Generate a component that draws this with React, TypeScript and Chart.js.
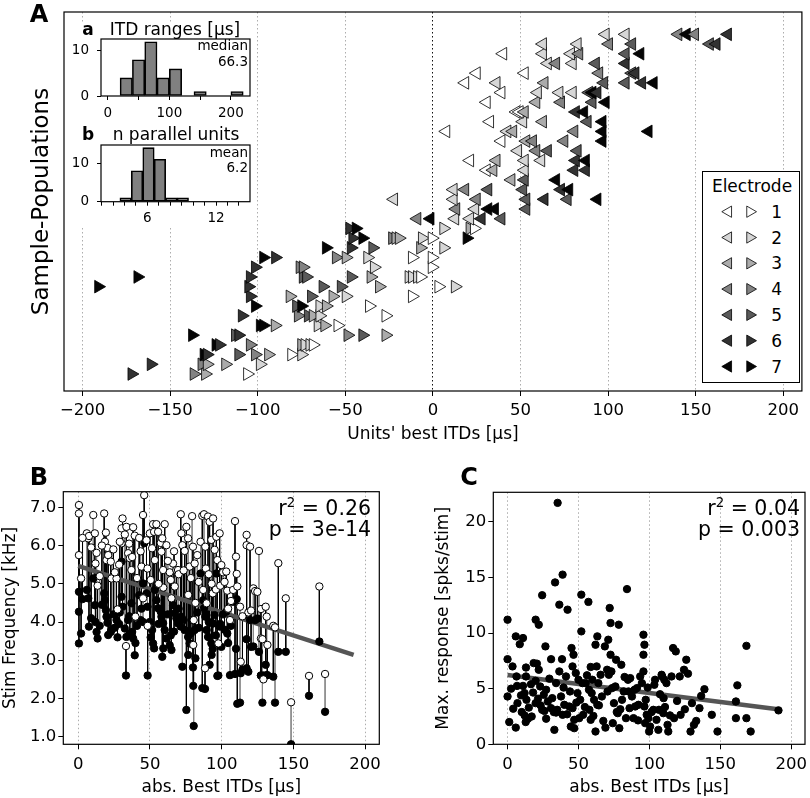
import React, { useEffect, useRef } from 'react';
import { Chart, registerables } from 'chart.js';

Chart.register(...registerables);

const FONT = "'DejaVu Sans', sans-serif";
const MINUS = '\u2212';

// ================= Panel A : units' best ITDs per sample population =================
const aItdTicks = [-200, -150, -100, -50, 0, 50, 100, 150, 200];
const aPopulationSide = [
  'right', 'right', 'right', 'right', 'right', 'right', 'right', 'right',
  'right', 'right', 'right', 'right', 'right', 'right', 'right', 'right',
  'left', 'left', 'left', 'left', 'left', 'left', 'left', 'left', 'left', 'left',
  'left', 'left', 'left', 'left', 'left', 'left', 'left', 'left', 'left', 'left',
];
const aBestItds: number[][] = [
  [-172, -136.5, -130, -106],
  [-161, -132, -129, -118.5, -98.7],
  [-130.8, -129, -111, -101.5, -94, -80.8, -75.1],
  [-124, -122, -104.4, -75.1, -73.2, -70.4, -68.5],
  [-137.4, -112.9, -111, -48.7, -40.2, -27],
  [-98.7, -96.8, -90.2, -65.7, -61.9, -54.4],
  [-109, -77, -71.3, -68.5, -64.7, -27],
  [-101.5, -78, -75.1, -64.7, -61, -36.4],
  [-104.4, -81.7, -69.5, -57.2, -49.7, -11.9],
  [-191, -105.3, -62.9, -52.5, -30.7, 3.2, 12.6],
  [-168.6, -104.4, -74.2, -72.3, -46.8, -35.5, -13.8, -11.9, -9, -7.2],
  [-101.5, -76, -74.2, -33.6, -0.6],
  [-96.8, -90, -55.3, -49.7, -37.4, -11.9, -0.6],
  [-61, -46.8, -34.5, -7.2, 6],
  [-45.9, -40.2, -23.2, -21.3, -19.4, -6.2, -0.6, 19.3],
  [-47.7, -44, 6, 21, 23.5],
  [-9, -1.5, 12.6, 21.1, 27.7, 39],
  [13.2, 24, 31.5, 35.3, 53.2],
  [-22.3, 11.7, 24.9, 53.2, 63.6, 76.8, 93.8],
  [11.7, 18.3, 31.5, 51.4, 73, 77.7],
  [44.7, 52.3, 70.2],
  [30.6, 34.4, 52.3, 80.6, 87.2],
  [21.1, 36.2, 52.3, 61.7, 81.5, 87.2],
  [48.5, 58.9, 65.5, 82.5],
  [39, 53.2, 57, 74.9, 96.7],
  [7.5, 42.4, 45.7, 80.6, 96.7, 123],
  [32.5, 51.4, 62.7, 88.2, 96.7],
  [47.6, 49.4, 52.3, 81.5, 86.2],
  [30.6, 58.9, 73, 91, 98.5],
  [39, 59.8, 72.1, 79.7, 89.1, 91, 93.8],
  [18.3, 36.2, 63.6, 97.6, 109.9, 119.3, 125.9],
  [24.9, 52.3, 94.8, 113.6, 115.5],
  [65.5, 70.2, 79.7, 92.9, 109.9],
  [40, 62.7, 78.7, 83.4, 109.9, 118.3],
  [62.7, 82.5, 100.4, 113.6, 158, 161.8],
  [98.5, 109.9, 140, 144.8, 149.5, 168.3],
];
const aElectrodes: number[][] = [
  [6, 4, 3, 1],
  [6, 4, 3, 3, 2],
  [7, 6, 5, 4, 3, 1, 2],
  [7, 6, 4, 3, 2, 2, 1],
  [7, 5, 6, 4, 5, 3],
  [7, 7, 3, 2, 3, 1],
  [6, 4, 5, 3, 2, 1],
  [7, 5, 7, 2, 3, 1],
  [6, 3, 5, 3, 2, 1],
  [7, 6, 5, 5, 3, 1, 2],
  [7, 6, 5, 5, 5, 3, 2, 2, 2, 1],
  [6, 4, 4, 2, 1],
  [7, 6, 4, 3, 2, 1, 1],
  [7, 6, 5, 3, 2],
  [6, 7, 4, 3, 3, 2, 1, 7],
  [6, 7, 2, 3, 1],
  [4, 7, 2, 2, 6, 5],
  [4, 2, 7, 7, 5],
  [2, 2, 4, 5, 6, 5, 7],
  [2, 4, 5, 5, 6, 7],
  [3, 5, 7],
  [1, 3, 2, 6, 6],
  [1, 3, 2, 2, 6, 7],
  [2, 4, 5, 5],
  [1, 3, 4, 4, 7],
  [1, 2, 3, 4, 7, 7],
  [1, 2, 3, 5, 7],
  [1, 1, 3, 6, 7],
  [1, 3, 4, 5, 7],
  [1, 2, 2, 2, 5, 7, 6],
  [1, 2, 3, 5, 5, 6, 7],
  [1, 1, 4, 5, 6],
  [2, 4, 2, 5, 6],
  [1, 2, 2, 4, 5, 7],
  [2, 2, 4, 5, 5, 6],
  [2, 2, 4, 7, 4, 6],
];
const electrodeIds = [1, 2, 3, 4, 5, 6, 7];

// ================= Inset a : ITD ranges =================
const itdRangeBinCenters = [30, 50, 70, 90, 110, 150, 210];
const itdRangeCounts = [4, 8, 12, 4, 6, 1, 1];
const itdRangeTicks = [0, 50, 100, 150, 200];
const itdRangeTickLabels = [0, 100, 200];
const itdRangeCountTicks = [0, 10];
const itdRangeMedian = '66.3';

// ================= Inset b : n parallel units =================
const nUnitsBinCenters = [4.1, 5.1, 6.1, 7.1, 8.1, 9.1];
const nUnitsCounts = [1, 8, 14, 11, 1, 1];
const nUnitsTicks = [2, 3, 4, 5, 6, 7, 8, 9, 10, 11, 12, 13, 14];
const nUnitsTickLabels = [6, 12];
const nUnitsCountTicks = [0, 10];
const nUnitsMean = '6.2';

// ================= Panel B : stim frequency vs abs best ITD =================
const bAbsItd = [
  0.5, 0.5, 0.5, 2, 6, 7, 7.5, 10.5, 11.6, 12, 12.8, 13.5, 18.1, 18.6, 19.3, 19.7,
  20.4, 20.9, 22.7, 23.2, 26.7, 27.4, 30.2, 30.2, 30.9, 32.5, 33.3, 33.6, 34.8, 36,
  37.1, 37.6, 38.3, 39.4, 39.9, 44.1, 45.2, 45.2, 46, 47.6, 48.3, 48.4, 49.9, 51.5,
  52.2, 52.9, 53.4, 54.5, 55.7, 57.5, 58, 58.6, 59.2, 59.3, 60.3, 61.5, 63.8, 65,
  66.1, 67.3, 68.4, 69.6, 71.5, 71.9, 72.6, 74.2, 75.4, 76.6, 76.7, 77.7, 79.4, 80,
  80.2, 80.5, 81.2, 81.7, 85.3, 86.5, 87.1, 87.7, 88.4, 88.6, 89.5, 90.5, 91.6, 92.8,
  93, 94, 95.1, 96.3, 97, 97.7, 98.6, 99.8, 101, 103.2, 103.9, 105.8, 108, 109.3,
  110, 110.5, 110.9, 112.8, 113.3, 117.4, 117.4, 118.6, 119.8, 122.1, 123.3, 124.9,
  126, 127.4, 127.4, 128.4, 129.1, 130.7, 131.4, 131.9, 136, 137.2, 139.5, 144.7,
  148.4, 160.9, 168.1, 172.1,
  3, 9, 15, 16.5, 24.5, 25.5, 28.5, 29, 35.5, 41, 42.5, 43.5, 50.5, 56, 62.5, 64.5,
  66.8, 70, 73.5, 78.5, 83, 84, 89, 91, 93.8, 96, 99, 102, 104.5, 106.5, 114.5, 120.5,
];
const bFreqWhite = [
  7.06, 6.84, 5.75, 5.14, 6.32, 6.19, 6.25, 6.8, 6.32, 5.53, 5.81, 4.95, 6.84, 6.1, 6.34, 5.62,
  5.94, 5.75, 5.58, 5.14, 5.14, 4.33, 6.45, 6.06, 6.71, 6.29, 3.37, 6.49, 5.8, 5.67,
  5.36, 5.7, 6.48, 6.26, 4.14, 5.45, 6.8, 4.62, 7.32, 6.14, 5.4, 3.9, 6.32, 5.93,
  6.56, 6.36, 5.62, 6.56, 6.36, 6.07, 5.84, 6.19, 5.36, 4.9, 6.56, 6.01, 5.3, 4.62,
  5.53, 4.93, 5.36, 5.36, 6.82, 6.32, 6.01, 5.86, 6.49, 6.19, 4.71, 5.45, 6.77, 5.97,
  3.4, 4.05, 5.53, 4.5, 6.1, 6.78, 4.84, 6.82, 2.79, 5.97, 4.49, 6.76, 6.62, 6.15,
  5.0, 6.71, 5.89, 6.23, 5.62, 3.44, 6.32, 5.49, 5.3, 5.32, 4.82, 4.05, 4.84, 6.64,
  5.71, 5.26, 4.93, 4.4, 2.96, 6.28, 6.01, 4.25, 5.97, 4.88, 4.81, 4.79,
  5.86, 4.34, 3.57, 3.55, 2.5, 4.4, 4.14, 3.4, 3.9, 3.86, 5.54, 4.62,
  1.9, 2.59, 4.93, 2.64,
  6.2, 5.95, 5.2, 6.0, 5.9, 5.3, 5.5, 6.1, 6.05, 5.15, 6.2, 5.85, 5.1, 5.0, 5.6, 5.1,
  5.85, 5.25, 5.35, 5.15, 5.75, 5.05, 5.4, 5.25, 4.75, 4.85, 4.95, 5.05, 4.35, 4.55, 4.15, 4.3,
];
const bFreqBlack = [
  4.79, 4.27, 3.44, 3.7, 4.84, 4.62, 3.88, 5.14, 4.44, 4.0, 3.74, 3.57, 4.75, 4.57, 4.31, 4.14,
  3.98, 3.66, 3.74, 3.8, 4.05, 3.6, 5.58, 4.66, 4.4, 3.83, 2.6, 3.61, 4.05, 3.7,
  4.49, 3.74, 3.57, 3.13, 3.45, 4.35, 5.01, 4.0, 6.06, 4.75, 4.4, 2.6, 4.0, 3.79,
  3.44, 3.31, 4.84, 4.57, 4.36, 4.27, 4.14, 3.09, 3.97, 3.31, 3.79, 3.57, 3.39, 3.27,
  4.44, 4.23, 4.1, 3.96, 3.88, 4.14, 2.83, 3.79, 1.7, 3.61, 3.14, 3.44, 4.05, 2.81,
  2.33, 1.28, 3.79, 3.05, 5.27, 2.27, 4.57, 4.36, 2.25, 4.14, 3.79, 3.61, 2.88, 3.44,
  3.14, 3.96, 4.18, 5.27, 2.59, 2.6, 3.88, 3.35, 4.2, 4.27, 3.7, 2.61, 4.53, 2.64,
  3.3, 4.6, 1.86, 1.89, 2.66, 2.79, 3.55, 2.7, 4.05, 3.36, 4.05, 4.09,
  3.22, 2.6, 2.6, 1.89, 2.6, 2.88, 2.61, 2.61, 2.57, 1.89, 3.22, 3.22,
  0.8, 2.07, 3.49, 1.65,
  4.6, 4.1, 3.9, 4.45, 4.2, 3.85, 3.95, 4.25, 4.15, 3.9, 4.7, 4.05, 3.6, 3.95, 4.2, 3.65,
  3.75, 4.35, 4.05, 3.7, 4.25, 3.85, 4.2, 4.0, 3.3, 3.65, 3.95, 3.8, 3.45, 3.9, 2.75, 3.35,
];
const bFitItd = [0, 192];
const bFitFreq = [5.47, 3.14];
const bXTicks = [0, 50, 100, 150, 200];
const bYTicks = [1, 2, 3, 4, 5, 6, 7];
const bR2 = '0.26';
const bP = '3e-14';

// ================= Panel C : max response vs abs best ITD =================
const cAbsItd = [
  0, 0, 0, 1.2, 3.5, 5.8, 5.8, 6.3, 7, 8.6, 6.7, 10.9, 10.9, 12, 12, 12.8, 13, 13, 13.3, 14.4,
  18, 18.4, 19.8, 22, 19.8, 19.8, 20.7, 22, 23.3, 24.4, 24.4, 26, 26.7, 27.2, 27.2, 28.4,
  30.7, 30.7, 32.6, 33, 33.5, 34.2, 34.2, 35.3, 36.5, 36.5, 37.7, 38.4, 38.8, 38.8, 40,
  41.2, 42.3, 43.5, 44.6, 45.1, 45.8, 45.8, 46.5, 47, 47, 48.1, 49.3, 50.5, 51.2, 52, 52,
  52.8, 53.3, 55.1, 57, 57.4, 57.7, 58.6, 58.6, 59.3, 59.8, 61, 62, 62, 62.8, 63.3, 63.3,
  64, 64.4, 65.6, 68.6, 69, 70.2, 71, 71.4, 72, 72.6, 72.6, 73.2, 73.7, 74.2, 75, 76,
  76.5, 77, 77.7, 78.4, 78.8, 80.2, 80.7, 81.9, 83.5, 84.2, 84.9, 85.3, 86.5, 87.7, 88.8,
  90, 91.2, 92.3, 93.5, 94.7, 95.8, 95.8, 96.5, 95.8, 96.5, 97, 97.4, 98.1, 99.3, 99.8,
  100.5, 102.8, 103.5, 104, 105, 106.3, 106.7, 108.6, 109, 109.8, 110, 110.5, 112, 112.8,
  113.3, 115.6, 116.7, 117.4, 118.6, 121.4, 122, 124.4, 126, 127.2, 129, 130, 131.4,
  135.3, 136.5, 138.8, 144, 148, 161, 161, 162, 168.4, 168.4, 171.4, 191,
  2.5, 4, 9.5, 10, 15, 16.5, 17, 21.5, 23, 25.5, 29.5, 31.5, 35, 39.5, 42, 44, 48.5, 50,
  54.5, 56, 60.5, 66.5, 67.5, 70.5, 79.5, 82.5, 86, 89.5, 92, 98.8, 101.5, 107.5, 111,
  114.5, 119.5, 125, 133,
];
const cMaxResponse = [
  11.2, 7.65, 4.3, 2.0, 7.0, 9.7, 1.5, 6.1, 3.7, 9.0, 5.25, 9.55, 5.25, 4.6, 2.6, 2.0, 6.9, 6.1, 4.0, 2.3,
  4.65, 7.3, 11.2, 10.75, 5.7, 3.7, 7.25, 6.7, 3.5, 13.4, 3.1, 3.0, 8.8, 4.9, 2.3, 3.85,
  7.65, 3.25, 2.9, 1.3, 14.55, 5.5, 2.85, 21.7, 12.55, 6.55, 4.3, 7.65, 15.25, 2.65, 3.55,
  6.1, 12.1, 3.4, 1.6, 8.65, 7.0, 3.25, 8.05, 2.2, 1.45, 6.4, 4.6, 2.35, 4.0, 13.45, 10.15,
  5.5, 2.65, 5.5, 12.8, 4.9, 3.1, 6.95, 2.2, 4.6, 5.8, 4.0, 8.95, 1.15, 7.0, 9.7, 3.55,
  5.5, 3.5, 6.25, 8.8, 1.5, 6.7, 9.4, 6.25, 12.25, 10.9, 8.05, 6.55, 5.05, 1.9, 3.7, 5.2,
  7.6, 2.9, 2.8, 10.75, 1.45, 7.15, 4.0, 4.75, 2.35, 13.95, 5.8, 4.75, 5.95, 4.3, 2.35,
  3.4, 5.05, 3.55, 6.1, 5.5, 8.05, 9.85, 8.95, 6.55, 3.4, 1.9, 4.0, 2.65, 2.35, 1.15,
  1.6, 3.1, 5.35, 5.8, 2.2, 1.3, 3.1, 6.25, 6.1, 2.8, 4.15, 5.8, 5.5, 1.75,
  1.15, 6.1, 8.65, 2.35, 8.35, 6.1, 2.65, 6.7, 7.6, 6.35, 1.15, 3.7, 1.75,
  3.25, 4.35, 4.95, 2.65, 1.15, 3.85, 2.35, 5.3, 2.35, 8.85, 1.15, 3.05,
  5.0, 3.2, 4.4, 2.9, 3.3, 5.4, 2.5, 4.1, 5.2, 4.45, 5.9, 4.15, 3.1, 5.1, 2.7, 4.75, 3.75, 5.8,
  3.35, 6.2, 2.55, 4.3, 2.1, 4.75, 3.15, 6.05, 3.25, 4.9, 2.15, 5.1, 2.9, 4.5, 3.35,
  2.6, 3.9, 3.15, 2.1,
];
const cFitItd = [0, 192];
const cFitResponse = [6.22, 3.12];
const cXTicks = [0, 50, 100, 150, 200];
const cYTicks = [0, 5, 10, 15, 20];
const cR2 = '0.04';
const cP = '0.003';

// ================= styling helpers =================
const ELECTRODE_GRAYS = ['#ffffff', '#d6d6d6', '#ababab', '#838383', '#5a5a5a', '#323232', '#050505'];

const framePlugin = {
  id: 'frame',
  afterDraw(chart: any) {
    const { ctx, chartArea } = chart;
    const { left, top, right, bottom } = chartArea;
    ctx.save();
    ctx.strokeStyle = '#000';
    ctx.lineWidth = 1.2;
    ctx.strokeRect(left, top, right - left, bottom - top);
    ctx.restore();
  },
};

type AxisOpts = {
  min: number;
  max: number;
  ticks: number[];
  labels?: number[];
  horizontal: boolean;
  fixed: number;
  tickLen?: number;
  pad?: number;
  fontSize?: number;
  fmt?: (v: number) => string;
  grid?: boolean;
  gridColor?: (v: number) => string;
  showTicks?: boolean;
  title?: string;
  titleSize?: number;
  titlePad?: number;
};

function axis(o: AxisOpts): any {
  const labelSet = o.labels ?? o.ticks;
  const fmt = o.fmt ?? ((v: number) => String(v));
  const show = o.showTicks !== false;
  return {
    type: 'linear',
    min: o.min,
    max: o.max,
    offset: false,
    afterBuildTicks: (s: any) => {
      s.ticks = o.ticks.map((v) => ({ value: v }));
    },
    afterFit: (s: any) => {
      if (o.horizontal) {
        s.height = o.fixed;
        s.paddingLeft = 0;
        s.paddingRight = 0;
      } else {
        s.width = o.fixed;
        s.paddingTop = 0;
        s.paddingBottom = 0;
      }
    },
    ticks: {
      display: show,
      autoSkip: false,
      maxRotation: 0,
      minRotation: 0,
      padding: o.pad ?? 4,
      color: '#000',
      font: { family: FONT, size: o.fontSize ?? 16.5 },
      callback: (v: number) => (labelSet.includes(v) ? fmt(v) : ''),
    },
    grid: {
      display: show,
      drawOnChartArea: !!o.grid,
      drawTicks: true,
      offset: false,
      tickLength: o.tickLen ?? 5,
      tickWidth: 1,
      tickColor: '#000',
      lineWidth: 1,
      color: (c: any) => (o.gridColor ? o.gridColor(c.tick ? c.tick.value : NaN) : '#adadad'),
    },
    border: { display: false, dash: [1.5, 2.5] },
    title: o.title
      ? {
          display: true,
          text: o.title,
          color: '#000',
          font: { family: FONT, size: o.titleSize ?? 17 },
          padding: { top: o.titlePad ?? 0, bottom: o.titlePad ?? 0 },
        }
      : { display: false },
  };
}

function baseOptions(padding: any, scales: any) {
  return {
    responsive: false,
    maintainAspectRatio: false,
    animation: false,
    devicePixelRatio: 1,
    layout: { padding },
    plugins: { legend: { display: false }, tooltip: { enabled: false }, title: { display: false } },
    scales,
  };
}

// ================= chart configs =================
function makeA() {
  const points: any[] = [];
  aBestItds.forEach((row, p) =>
    row.forEach((itd, k) => points.push({ x: itd, y: p, e: aElectrodes[p][k], side: aPopulationSide[p] }))
  );
  return {
    type: 'scatter',
    data: {
      datasets: [
        {
          data: points,
          pointStyle: 'triangle',
          pointRadius: 7.3,
          pointRotation: (c: any) => (c.raw && c.raw.side === 'right' ? 90 : -90),
          pointBackgroundColor: (c: any) => ELECTRODE_GRAYS[((c.raw && c.raw.e) || 1) - 1],
          pointBorderColor: '#000',
          pointBorderWidth: 0.8,
        },
      ],
    },
    options: baseOptions(
      { left: 0, top: 12, right: 3, bottom: 0 },
      {
        x: axis({
          min: -210.6,
          max: 210.6,
          ticks: aItdTicks,
          horizontal: true,
          fixed: 59,
          pad: 5,
          grid: true,
          gridColor: (v) => (v === 0 ? '#111' : '#adadad'),
          fmt: (v) => (v < 0 ? MINUS + Math.abs(v) : String(v)),
          title: "Units' best ITDs [µs]",
          titlePad: 5,
        }),
        y: axis({
          min: -1.75,
          max: 37.3,
          ticks: [],
          horizontal: false,
          fixed: 64,
          showTicks: false,
          title: 'Sample-Populations',
          titleSize: 23,
          titlePad: 28,
        }),
      }
    ),
    plugins: [framePlugin],
  };
}

function makeHist(
  centers: number[],
  counts: number[],
  xmin: number,
  xmax: number,
  xticks: number[],
  xlabels: number[],
  ymax: number,
  yticks: number[],
  xFixed: number,
  top: number
) {
  return {
    type: 'bar',
    data: {
      datasets: [
        {
          data: centers.map((c, i) => ({ x: c, y: counts[i] })),
          backgroundColor: '#808080',
          borderColor: '#000',
          borderWidth: 1.6,
          borderSkipped: false,
          barPercentage: 1,
          categoryPercentage: 1,
        },
      ],
    },
    options: baseOptions(
      { left: 0, top, right: 6, bottom: 0 },
      {
        x: axis({ min: xmin, max: xmax, ticks: xticks, labels: xlabels, horizontal: true, fixed: xFixed, tickLen: 4, pad: 5, fontSize: 13.5 }),
        y: axis({ min: 0, max: ymax, ticks: yticks, horizontal: false, fixed: 35, tickLen: 4, pad: 8, fontSize: 13.5 }),
      }
    ),
    plugins: [framePlugin],
  };
}

function makeB() {
  const whites = bAbsItd.map((x, i) => ({ x, y: bFreqWhite[i] }));
  const blacks = bAbsItd.map((x, i) => ({ x, y: bFreqBlack[i] }));
  const stemsDark: any[] = [];
  const stemsGray: any[] = [];
  bAbsItd.forEach((x, i) => {
    const target = i % 3 === 1 ? stemsGray : stemsDark;
    target.push({ x, y: bFreqWhite[i] }, { x, y: bFreqBlack[i] }, { x, y: null });
  });
  const fit = bFitItd.map((x, i) => ({ x, y: bFitFreq[i] }));
  return {
    type: 'scatter',
    data: {
      datasets: [
        { data: whites, pointRadius: 3.7, pointBackgroundColor: '#fff', pointBorderColor: '#000', pointBorderWidth: 1, order: 0 },
        { data: blacks, pointRadius: 3.7, pointBackgroundColor: '#000', pointBorderColor: '#000', pointBorderWidth: 1, order: 1 },
        { data: fit, showLine: true, borderColor: '#555', borderWidth: 4.5, pointRadius: 0, order: 2 },
        { data: stemsDark, showLine: true, spanGaps: false, borderColor: '#000', borderWidth: 1, pointRadius: 0, order: 3 },
        { data: stemsGray, showLine: true, spanGaps: false, borderColor: '#8a8a8a', borderWidth: 1, pointRadius: 0, order: 4 },
      ],
    },
    options: baseOptions(
      { left: 0, top: 21.7, right: 20.7, bottom: 0 },
      {
        x: axis({ min: -10.4, max: 209.9, ticks: bXTicks, horizontal: true, fixed: 53.7, pad: 5.8, grid: true, title: 'abs. Best ITDs [µs]', titlePad: 0.5 }),
        y: axis({ min: 0.8, max: 7.41, ticks: bYTicks, horizontal: false, fixed: 63.3, pad: 2, fmt: (v) => v.toFixed(1), title: 'Stim Frequency [kHz]', titlePad: 0 }),
      }
    ),
    plugins: [framePlugin],
  };
}

function makeC() {
  const pts = cAbsItd.map((x, i) => ({ x, y: cMaxResponse[i] }));
  const fit = cFitItd.map((x, i) => ({ x, y: cFitResponse[i] }));
  return {
    type: 'scatter',
    data: {
      datasets: [
        { data: pts, pointRadius: 3.7, pointBackgroundColor: '#000', pointBorderColor: '#000', pointBorderWidth: 1, order: 0 },
        { data: fit, showLine: true, borderColor: '#555', borderWidth: 4.5, pointRadius: 0, order: 1 },
      ],
    },
    options: baseOptions(
      { left: 0, top: 22.3, right: 2.5, bottom: 0 },
      {
        x: axis({ min: -10.05, max: 209.7, ticks: cXTicks, horizontal: true, fixed: 53.7, pad: 5.8, grid: true, title: 'abs. Best ITDs [µs]', titlePad: 0.5 }),
        y: axis({ min: 0, max: 22.65, ticks: cYTicks, horizontal: false, fixed: 83.3, pad: 2, title: 'Max. response [spks/stim]', titlePad: 23.3 }),
      }
    ),
    plugins: [framePlugin],
  };
}

// ================= components =================
function ChartBox(props: { left: number; top: number; width: number; height: number; make: () => any }) {
  const { left, top, width, height, make } = props;
  const ref = useRef<HTMLCanvasElement | null>(null);
  useEffect(() => {
    if (!ref.current) return;
    const chart = new Chart(ref.current, make());
    return () => chart.destroy();
  }, []);
  return (
    <div style={{ position: 'absolute', left, top, width, height }}>
      <canvas ref={ref} width={width} height={height} style={{ display: 'block', width, height }} />
    </div>
  );
}

function T(props: { x: number; y: number; size: number; bold?: boolean; anchor?: 'left' | 'center' | 'right'; children: any }) {
  const { x, y, size, bold, anchor = 'center', children } = props;
  const tx = anchor === 'center' ? '-50%' : anchor === 'right' ? '-100%' : '0';
  return (
    <div
      style={{
        position: 'absolute',
        left: x,
        top: y,
        transform: `translate(${tx}, -50%)`,
        fontFamily: FONT,
        fontSize: size,
        fontWeight: bold ? 'bold' : 'normal',
        whiteSpace: 'nowrap',
        lineHeight: 1,
        color: '#000',
      }}
    >
      {children}
    </div>
  );
}

function Tri(props: { cx: number; cy: number; r: number; dir: 'left' | 'right'; fill: string }) {
  const { cx, cy, r, dir, fill } = props;
  const s = dir === 'left' ? -1 : 1;
  const h = (Math.sqrt(3) / 2) * r;
  const pts = `${cx + s * r},${cy} ${cx - (s * r) / 2},${cy - h} ${cx - (s * r) / 2},${cy + h}`;
  return <polygon points={pts} fill={fill} stroke="#000" strokeWidth={0.8} />;
}

function Legend() {
  const left = 702;
  const top = 171;
  const w = 98;
  const h = 212;
  return (
    <div style={{ position: 'absolute', left, top, width: w, height: h, background: '#fff', border: '1px solid #000', boxSizing: 'border-box' }}>
      <T x={49} y={14} size={17}>Electrode</T>
      <svg width={w} height={h} style={{ position: 'absolute', left: -1, top: -1 }}>
        {electrodeIds.map((id, i) => (
          <g key={id}>
            <Tri cx={26.3} cy={40.7 + 25.8 * i} r={6.5} dir="left" fill={ELECTRODE_GRAYS[i]} />
            <Tri cx={48} cy={40.7 + 25.8 * i} r={6.5} dir="right" fill={ELECTRODE_GRAYS[i]} />
          </g>
        ))}
      </svg>
      {electrodeIds.map((id, i) => (
        <T key={id} x={73.7} y={39.7 + 25.8 * i} size={17}>
          {String(id)}
        </T>
      ))}
    </div>
  );
}

export default function App() {
  return (
    <div style={{ position: 'absolute', left: 0, top: 0, width: 810, height: 798, background: '#fff', overflow: 'hidden' }}>
      <ChartBox left={0} top={0} width={810} height={450} make={makeA} />
      <div style={{ position: 'absolute', left: 66, top: 22, width: 190, height: 204, background: '#fff' }} />
      <ChartBox
        left={66}
        top={22}
        width={190}
        height={100}
        make={() => makeHist(itdRangeBinCenters, itdRangeCounts, -11, 231, itdRangeTicks, itdRangeTickLabels, 12.6, itdRangeCountTicks, 26, 17)}
      />
      <ChartBox
        left={66}
        top={125}
        width={190}
        height={101}
        make={() => makeHist(nUnitsBinCenters, nUnitsCounts, 1.95, 14.97, nUnitsTicks, nUnitsTickLabels, 14.7, nUnitsCountTicks, 24.3, 20)}
      />
      <Legend />
      <ChartBox left={0} top={470} width={400} height={328} make={makeB} />
      <ChartBox left={410} top={470} width={400} height={328} make={makeC} />

      <T x={39} y={13.5} size={24} bold>A</T>
      <T x={39} y={477} size={24} bold>B</T>
      <T x={469} y={477} size={24} bold>C</T>

      <T x={88} y={29} size={17} bold>a</T>
      <T x={175} y={29} size={17}>ITD ranges [µs]</T>
      <T x={248} y={46} size={13.5} anchor="right">median</T>
      <T x={248} y={62} size={13.5} anchor="right">{itdRangeMedian}</T>

      <T x={88} y={134} size={17} bold>b</T>
      <T x={176} y={134} size={17}>n parallel units</T>
      <T x={248} y={152.7} size={13.5} anchor="right">mean</T>
      <T x={248} y={168.3} size={13.5} anchor="right">{nUnitsMean}</T>

      <T x={371} y={507} size={20.5} anchor="right">
        r<sup style={{ fontSize: '0.65em', verticalAlign: '0.6em' }}>2</sup> = {bR2}
      </T>
      <T x={371} y={529} size={20.5} anchor="right">p = {bP}</T>
      <T x={800} y={507} size={20.5} anchor="right">
        r<sup style={{ fontSize: '0.65em', verticalAlign: '0.6em' }}>2</sup> = {cR2}
      </T>
      <T x={800} y={529} size={20.5} anchor="right">p = {cP}</T>
    </div>
  );
}
